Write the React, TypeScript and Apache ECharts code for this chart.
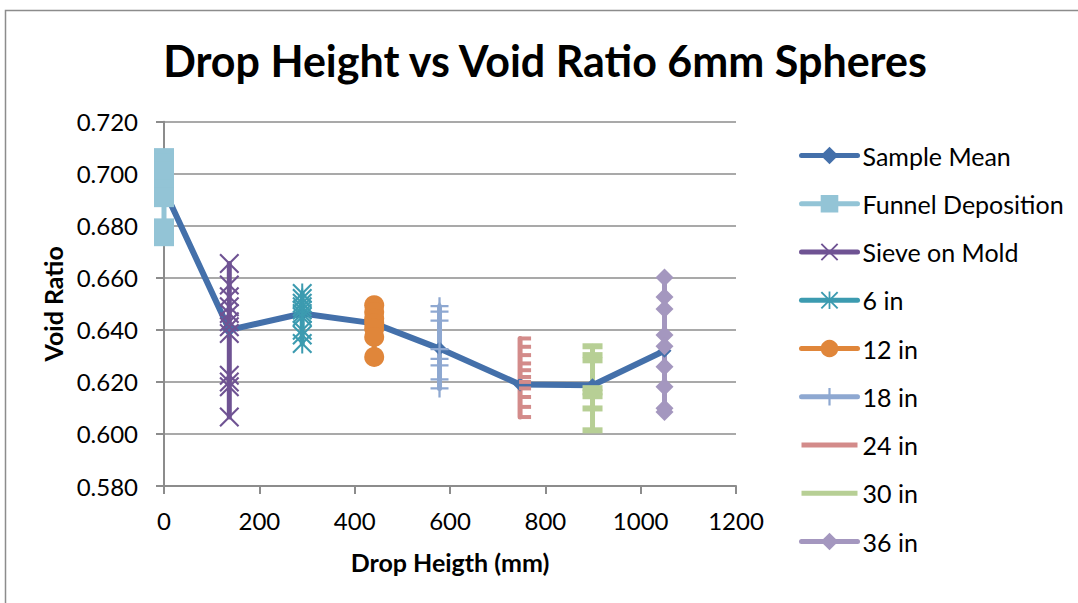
import { useEffect, useRef } from "react";
import * as echarts from "echarts";

const TITLE = "Drop Height vs Void Ratio 6mm Spheres";
const X_NAME = "Drop Heigth (mm)";
const Y_NAME = "Void Ratio";

const meanX = [0, 137, 290, 441, 578, 747, 899, 1050];
const meanY = [0.694, 0.640, 0.6463, 0.6425, 0.6328, 0.619, 0.6187, 0.632];

const funnelX = 0;
const funnelY = [0.706, 0.704, 0.701, 0.699, 0.697, 0.694, 0.691, 0.679, 0.676];
const sieveX = 137;
const sieveY = [0.6655, 0.6572, 0.6527, 0.6489, 0.6463, 0.6431, 0.6412, 0.6386, 0.6226, 0.62, 0.6181, 0.6065];
const in6X = 290;
const in6Y = [0.654, 0.6521, 0.6502, 0.6489, 0.6476, 0.6463, 0.645, 0.6399, 0.638, 0.6348];
const in12X = 441;
const in12Y = [0.6495, 0.6469, 0.6444, 0.6425, 0.6405, 0.6373, 0.6296];
const in18X = 578;
const in18Y = [0.6491, 0.647, 0.6436, 0.6326, 0.6289, 0.6264, 0.621, 0.6175];
const in24X = 747;
const in24Y = [0.6367, 0.6335, 0.6303, 0.6271, 0.6245, 0.6219, 0.62, 0.6175, 0.6142, 0.6104, 0.6065];
const in30X = 899;
const in30Y = [0.6337, 0.6303, 0.6283, 0.6176, 0.616, 0.6145, 0.6098, 0.6014];
const in36X = 1050;
const in36Y = [0.6601, 0.6526, 0.648, 0.638, 0.6337, 0.6258, 0.6181, 0.6099, 0.6084];

const SERIES_NAMES = ["Sample Mean", "Funnel Deposition", "Sieve on Mold", "6 in", "12 in", "18 in", "24 in", "30 in", "36 in"];

const X_MARK = "path://M0,1.5L1.5,0L20,18.5L18.5,20Z M18.5,0L20,1.5L1.5,20L0,18.5Z";
const STAR_MARK = "path://M0,1.5L1.5,0L20,18.5L18.5,20Z M18.5,0L20,1.5L1.5,20L0,18.5Z M9,0L11,0L11,20L9,20Z";
const PLUS_MARK = "path://M0,8.75L20,8.75L20,11.25L0,11.25Z M8.75,0L11.25,0L11.25,20L8.75,20Z";
const LINE_ICON = "path://M0,0L0,0M0,8.5L56,8.5L56,13.5L0,13.5ZM56,22L56,22";

const FONT = "Lato";

export default function App() {
  const ref = useRef<HTMLDivElement>(null);
  useEffect(() => {
    if (!ref.current) return;
    const chart = echarts.init(ref.current, null, { renderer: "svg" });
    const vert = (x: number, ys: number[]) => ys.map((y) => [x, y]);
    const mk = (
      name: string,
      color: string,
      data: number[][],
      symbol: string,
      symbolSize: any,
      extra: any = {},
      width = 5
    ) => ({
      name,
      type: "line",
      data,
      symbol,
      symbolSize,
      showSymbol: true,
      color,
      itemStyle: { color },
      lineStyle: { color, width, cap: "round", join: "round" },
      emphasis: { disabled: true },
      ...extra,
    });
    chart.setOption({
      animation: false,
      backgroundColor: "#ffffff",
      title: {
        text: TITLE,
        left: 545,
        textAlign: "center",
        top: 39,
        padding: 0,
        textStyle: { fontFamily: FONT, fontWeight: "bold", fontSize: 43, color: "#000", lineHeight: 43 },
      },
      graphic: [
        {
          type: "rect",
          shape: { x: 5.5, y: 10.5, width: 1200, height: 800 },
          style: { fill: "none", stroke: "#8c8c8c", lineWidth: 1.5 },
          silent: true,
          z: -1,
        },
      ],
      grid: { left: 164, right: 342, top: 121.7, bottom: 117, containLabel: false },
      legend: {
        orient: "vertical",
        left: 799,
        top: 143,
        padding: 0,
        itemWidth: 56,
        itemHeight: 22,
        itemGap: 23.25,
        lineStyle: { width: 5, cap: "round" },
        textStyle: { fontFamily: FONT, fontSize: 25, color: "#000", lineHeight: 25 },
        data: SERIES_NAMES.map((n) => (n === "24 in" || n === "30 in" ? { name: n, icon: LINE_ICON } : { name: n })),
      },
      xAxis: {
        type: "value",
        min: 0,
        max: 1200,
        interval: 200,
        name: X_NAME,
        nameLocation: "middle",
        nameGap: 63,
        nameTextStyle: { fontFamily: FONT, fontWeight: "bold", fontSize: 25, color: "#000", lineHeight: 25 },
        axisLine: { show: true, onZero: false, lineStyle: { color: "#8c8c8c", width: 2 } },
        axisTick: { show: true, length: 8, lineStyle: { color: "#8c8c8c", width: 2 } },
        axisLabel: {
          margin: 22,
          fontFamily: FONT,
          fontSize: 24,
          color: "#000",
          lineHeight: 24,
          formatter: (v: number) => String(v),
        },
        splitLine: { show: false },
      },
      yAxis: {
        type: "value",
        min: 0.58,
        max: 0.72,
        interval: 0.02,
        name: Y_NAME,
        nameLocation: "middle",
        nameGap: 94,
        nameTextStyle: { fontFamily: FONT, fontWeight: "bold", fontSize: 25, color: "#000", lineHeight: 25 },
        axisLine: { show: true, lineStyle: { color: "#8c8c8c", width: 2 } },
        axisTick: { show: true, length: 8, lineStyle: { color: "#8c8c8c", width: 2 } },
        axisLabel: {
          margin: 26,
          fontFamily: FONT,
          fontSize: 24,
          color: "#000",
          formatter: (v: number) => v.toFixed(3),
        },
        splitLine: { show: true, lineStyle: { color: "#8c8c8c", width: 1.6 } },
      },
      series: [
        mk("Sample Mean", "#4470AA", meanX.map((x, i) => [x, meanY[i]]), "diamond", 14, {}, 6),
        mk("Funnel Deposition", "#93C4D6", vert(funnelX, funnelY), "rect", 20),
        mk("Sieve on Mold", "#6F5393", vert(sieveX, sieveY), X_MARK, 20),
        mk("6 in", "#3C9BB0", vert(in6X, in6Y), STAR_MARK, 20),
        mk("12 in", "#E0863A", vert(in12X, in12Y), "circle", 20),
        mk("18 in", "#8EA8D1", vert(in18X, in18Y), PLUS_MARK, 18),
        mk("24 in", "#D38B8A", vert(in24X, in24Y), "rect", [12, 4], { symbolOffset: [5, 0] }),
        mk("30 in", "#B7CF95", vert(in30X, in30Y), "rect", [20, 6]),
        mk("36 in", "#A497BF", vert(in36X, in36Y), "diamond", 18),
      ],
    });
    return () => chart.dispose();
  }, []);
  return (
    <div
      ref={ref}
      style={{ position: "fixed", left: 0, top: 0, width: 1078, height: 603, background: "#fff" }}
    />
  );
}
